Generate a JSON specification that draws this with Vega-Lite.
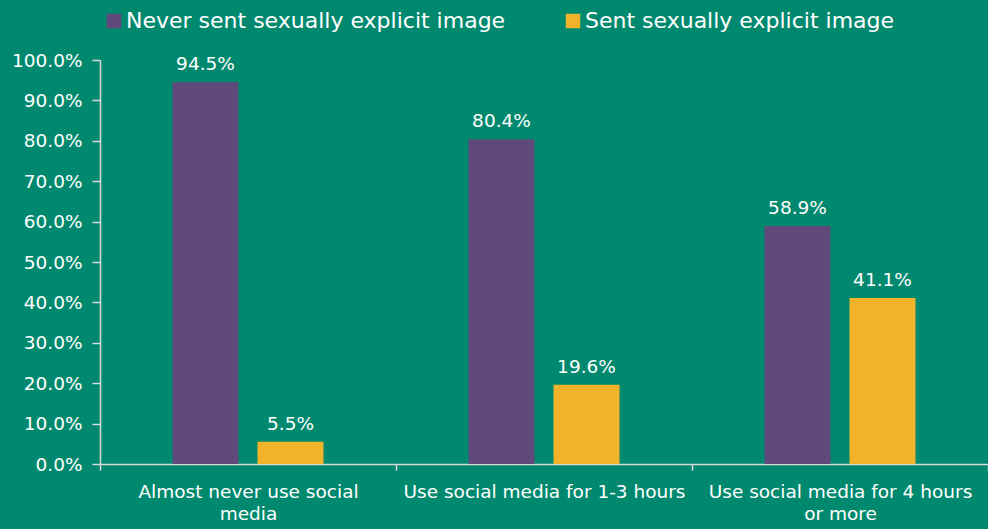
{
  "$schema": "https://vega.github.io/schema/vega-lite/v6.json",
  "width": 888,
  "height": 404,
  "autosize": {"type": "none"},
  "padding": {"left": 100, "top": 60, "right": 0, "bottom": 65},
  "background": "#00896E",
  "config": {
    "view": {"stroke": null},
    "font": "DejaVu Sans",
    "axis": {"grid": false, "domainColor": "#D9D9D9", "tickColor": "#D9D9D9", "labelColor": "#FFFFFF", "labelFont": "DejaVu Sans", "domainWidth": 1.5, "tickWidth": 1.5}
  },
  "data": {
    "values": [
      {"category": "Almost never use social media", "series": "Never sent sexually explicit image", "value": 94.5},
      {"category": "Almost never use social media", "series": "Sent sexually explicit image", "value": 5.5},
      {"category": "Use social media for 1-3 hours", "series": "Never sent sexually explicit image", "value": 80.4},
      {"category": "Use social media for 1-3 hours", "series": "Sent sexually explicit image", "value": 19.6},
      {"category": "Use social media for 4 hours or more", "series": "Never sent sexually explicit image", "value": 58.9},
      {"category": "Use social media for 4 hours or more", "series": "Sent sexually explicit image", "value": 41.1}
    ]
  },
  "encoding": {
    "x": {
      "field": "category", "type": "nominal", "sort": null, "title": null,
      "scale": {"paddingInner": 0, "paddingOuter": 0},
      "axis": {"labelAngle": 0, "tickBand": "extent", "tickSize": 6, "labelFontSize": 18.5, "labelPadding": 12, "labelLineHeight": 22, "labelLimit": 400,
        "labelExpr": "datum.value == 'Almost never use social media' ? ['Almost never use social', 'media'] : datum.value == 'Use social media for 4 hours or more' ? ['Use social media for 4 hours', 'or more'] : datum.value"}
    },
    "xOffset": {"field": "series", "type": "nominal", "scale": {"paddingInner": 0.2235, "paddingOuter": 0.853}},
    "y": {
      "field": "value", "type": "quantitative", "title": null,
      "scale": {"domain": [0, 100], "nice": false},
      "axis": {"values": [0, 10, 20, 30, 40, 50, 60, 70, 80, 90, 100], "tickSize": 8, "labelFontSize": 18.5, "labelPadding": 10, "labelExpr": "format(datum.value, '.1f') + '%'"}
    }
  },
  "layer": [
    {
      "mark": {"type": "bar"},
      "encoding": {
        "color": {
          "field": "series", "type": "nominal", "title": null,
          "scale": {"domain": ["Never sent sexually explicit image", "Sent sexually explicit image"], "range": ["#604A7B", "#F2B32A"]},
          "legend": {"orient": "none", "direction": "horizontal", "legendX": 3, "legendY": -50, "symbolType": "square", "symbolSize": 210, "symbolStrokeWidth": 0, "labelColor": "#FFFFFF", "labelFontSize": 22, "labelLimit": 500, "columnPadding": 56, "labelOffset": 1}
        }
      }
    },
    {
      "transform": [{"calculate": "format(datum.value, '.1f') + '%'", "as": "label"}],
      "mark": {"type": "text", "baseline": "bottom", "dy": -8, "fontSize": 18.5, "color": "#FFFFFF"},
      "encoding": {"text": {"field": "label", "type": "nominal"}}
    }
  ]
}
